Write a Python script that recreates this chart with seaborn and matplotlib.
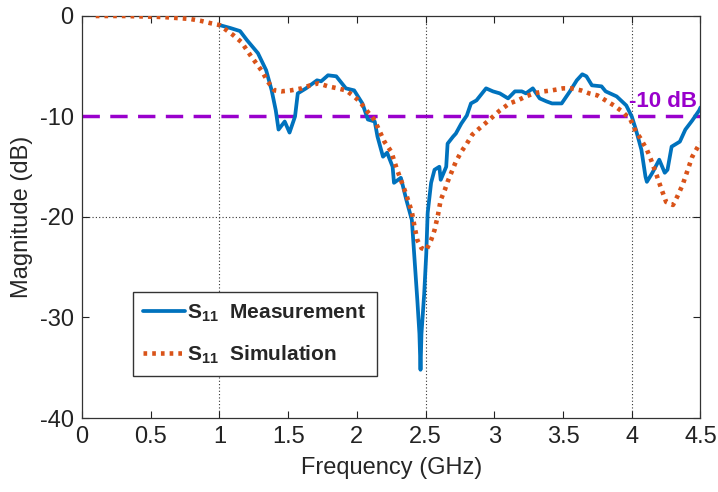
import numpy as np
import pandas as pd
import matplotlib
matplotlib.use('Agg')
import matplotlib.pyplot as plt
import seaborn as sns

# ---------------------------------------------------
# Datos
# ---------------------------------------------------
meas_freq = [1.00, 1.08, 1.15, 1.20, 1.28, 1.34, 1.38, 1.41, 1.43, 1.475, 1.51, 1.55, 1.57,
             1.63, 1.71, 1.74, 1.79, 1.85, 1.92, 1.98, 2.04, 2.08, 2.13, 2.15, 2.19,
             2.22, 2.26, 2.27, 2.32, 2.36, 2.40, 2.42, 2.44, 2.455, 2.463, 2.47, 2.49,
             2.505, 2.515, 2.54, 2.565, 2.60, 2.61, 2.65, 2.66, 2.70, 2.72, 2.76, 2.80,
             2.83, 2.87, 2.94, 2.99, 3.04, 3.10, 3.15, 3.20, 3.23, 3.28, 3.33, 3.38,
             3.42, 3.49, 3.55, 3.60, 3.64, 3.67, 3.71, 3.78, 3.81, 3.89, 3.96, 4.00,
             4.03, 4.07, 4.10, 4.11, 4.15, 4.20, 4.24, 4.26, 4.29, 4.35, 4.39, 4.44,
             4.49, 4.50]
meas_db = [-0.9, -1.2, -1.5, -2.4, -3.7, -5.4, -7.4, -9.4, -11.3, -10.5, -11.6, -10.0, -7.7,
           -7.2, -6.4, -6.5, -5.9, -6.0, -7.2, -7.4, -8.7, -10.3, -10.5, -12.0, -14.0,
           -13.6, -15.0, -16.6, -16.1, -18.3, -20.3, -24.3, -28.3, -31.6, -35.2, -31.6, -27.6,
           -23.6, -19.6, -16.6, -15.3, -15.0, -16.3, -15.0, -12.7, -12.0, -11.7, -10.7, -9.9,
           -8.7, -8.4, -7.2, -7.5, -7.7, -8.2, -7.5, -7.5, -7.7, -7.2, -8.2, -8.5,
           -8.7, -8.7, -7.5, -6.4, -5.8, -6.0, -6.9, -7.0, -7.5, -8.0, -8.9, -10.0,
           -11.3, -13.3, -16.0, -16.5, -15.6, -14.3, -15.6, -15.3, -13.0, -12.5, -11.3, -10.4,
           -9.4, -9.1]

sim_freq = [0.10, 0.30, 0.59, 0.79, 0.87, 0.93, 1.00, 1.10, 1.16, 1.23, 1.31, 1.35,
            1.40, 1.45, 1.52, 1.60, 1.66, 1.72, 1.79, 1.86, 1.92, 1.97, 2.02, 2.07,
            2.12, 2.15, 2.20, 2.25, 2.29, 2.32, 2.36, 2.40, 2.42, 2.44, 2.47, 2.505,
            2.54, 2.565, 2.59, 2.61, 2.64, 2.66, 2.69, 2.72, 2.76, 2.80, 2.84, 2.89,
            2.95, 3.04, 3.11, 3.17, 3.23, 3.29, 3.36, 3.42, 3.50, 3.56, 3.63, 3.69,
            3.75, 3.81, 3.87, 3.93, 3.99, 4.03, 4.06, 4.11, 4.14, 4.18, 4.21, 4.25,
            4.30, 4.33, 4.37, 4.40, 4.44, 4.49, 4.50]
sim_db = [0.0, 0.0, -0.1, -0.3, -0.5, -0.7, -0.9, -1.9, -2.6, -4.0, -5.5, -6.5,
          -7.4, -7.5, -7.4, -7.2, -6.9, -6.7, -7.0, -7.2, -7.4, -7.9, -8.5, -9.4,
          -10.2, -11.0, -12.5, -13.5, -15.2, -16.3, -17.8, -19.5, -21.0, -22.3, -23.1, -23.3,
          -22.3, -21.3, -19.8, -18.3, -17.3, -16.5, -15.5, -14.5, -13.5, -12.7, -11.8, -11.2,
          -10.5, -9.4, -8.7, -8.4, -8.0, -7.7, -7.5, -7.4, -7.2, -7.2, -7.4, -7.7,
          -7.9, -8.4, -8.9, -9.5, -10.3, -11.5, -12.1, -13.3, -14.3, -15.8, -17.0, -18.5,
          -18.8, -18.0, -16.8, -15.6, -14.0, -12.8, -12.6]

labels = [r'$\mathbf{S}_{\mathbf{11}}$  Measurement', r'$\mathbf{S}_{\mathbf{11}}$  Simulation']
x_ticks = [0, 0.5, 1, 1.5, 2, 2.5, 3, 3.5, 4, 4.5]
x_tick_labels = ['0', '0.5', '1', '1.5', '2', '2.5', '3', '3.5', '4', '4.5']
y_ticks = [-40, -30, -20, -10, 0]
y_tick_labels = ['-40', '-30', '-20', '-10', '0']
ref_level = -10
# ---------------------------------------------------

BLUE = '#0072BD'
ORANGE = '#D95319'
PURPLE = '#9900CC'
NARROW = ['Liberation Sans Narrow', 'Liberation Sans']


def main():
    sns.set_style('ticks')
    plt.rcParams['font.family'] = ['Liberation Sans', 'DejaVu Sans']
    plt.rcParams['axes.unicode_minus'] = False
    plt.rcParams['mathtext.fontset'] = 'custom'
    plt.rcParams['mathtext.bf'] = 'Liberation Sans:bold'
    plt.rcParams['mathtext.rm'] = 'Liberation Sans'

    df_meas = pd.DataFrame({'freq': meas_freq, 'db': meas_db})
    df_sim = pd.DataFrame({'freq': sim_freq, 'db': sim_db})

    fig = plt.figure(figsize=(7.18, 4.92), dpi=100)
    ax = fig.add_axes([0.1142, 0.1504, 0.8614, 0.8171])

    # lineas de referencia (rejilla manual)
    for xv in [1, 2.5, 4]:
        ax.axvline(xv, color='#333333', ls=(0, (1, 2)), lw=0.8, zorder=0)
    ax.axhline(-20, color='#333333', ls=(0, (1, 2)), lw=0.8, zorder=0)

    sns.lineplot(data=df_meas, x='freq', y='db', color=BLUE, lw=2.7,
                 sort=False, ax=ax, label=labels[0], zorder=3)
    sns.lineplot(data=df_sim, x='freq', y='db', color=ORANGE, lw=3.3,
                 linestyle=(0, (0.8, 1.1)), sort=False, ax=ax, label=labels[1], zorder=4)

    ax.axhline(ref_level, color=PURPLE, lw=2.5, ls=(0, (5, 3)), zorder=2)
    ax.text(4.475, ref_level + 0.9, '-10 dB', color=PURPLE, fontsize=16,
            fontweight='bold', ha='right', va='baseline')

    ax.set_xlim(0, 4.5)
    ax.set_ylim(-40, 0)
    ax.set_xticks(x_ticks)
    ax.set_xticklabels(x_tick_labels, fontsize=17, family=NARROW)
    ax.set_yticks(y_ticks)
    ax.set_yticklabels(y_tick_labels, fontsize=17, family=NARROW)
    ax.tick_params(direction='in', top=True, right=True, length=5, width=0.8,
                   colors='#222222', pad=6)
    for s in ax.spines.values():
        s.set_color('#333333')
        s.set_linewidth(0.9)

    ax.set_xlabel('Frequency (GHz)', fontsize=17, family=NARROW, labelpad=6)
    ax.set_ylabel('Magnitude (dB)', fontsize=17, family=NARROW, labelpad=5)

    leg = ax.legend(loc='lower left', bbox_to_anchor=(0.0825, 0.1045), frameon=True,
                    fancybox=False, edgecolor='#333333', framealpha=1,
                    prop={'weight': 'bold', 'size': 15}, handlelength=2.0,
                    handletextpad=0.1, borderpad=0.5, labelspacing=0.9,
                    borderaxespad=0)
    leg.get_frame().set_linewidth(1.0)

    fig.savefig('out.png', dpi=100)


if __name__ == "__main__":
    main()
